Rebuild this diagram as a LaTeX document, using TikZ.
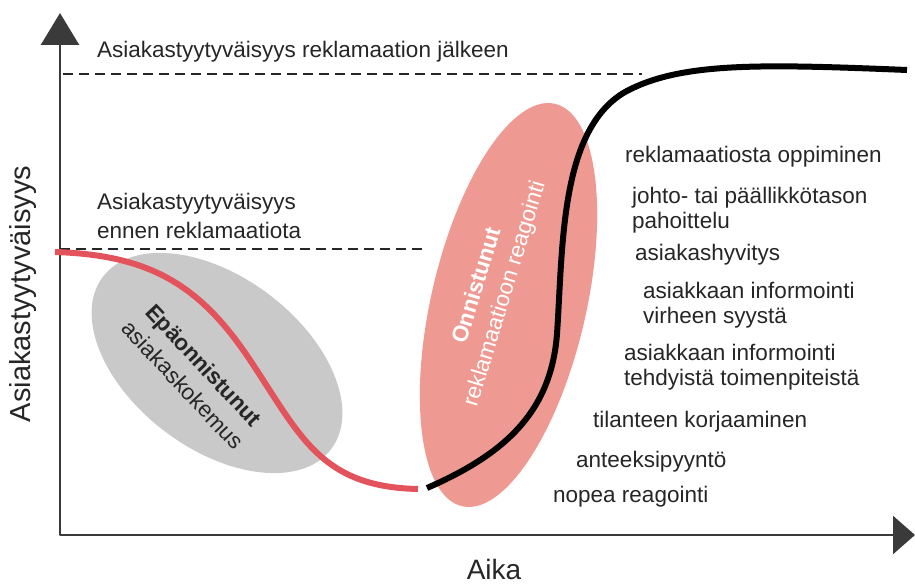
\documentclass[tikz,border=0pt]{standalone}
\usepackage{fontspec}
\setmainfont{Liberation Sans}
\usepackage{tikz}
\usetikzlibrary{arrows.meta,positioning,shapes.geometric}
\definecolor{blobgray}{HTML}{C9C9C9}
\definecolor{blobpink}{HTML}{EE9A92}
\definecolor{curvered}{HTML}{E2535B}
\definecolor{axisgray}{HTML}{3A3A3A}
\definecolor{textgray}{HTML}{262626}

\begin{document}
\begin{tikzpicture}[x=1pt,y=1pt,line cap=butt,line join=round,
  every node/.style={text=textgray,font=\fontsize{22.5}{25}\selectfont,inner sep=0pt},
  listlbl/.style={anchor=west,align=left},
  blob/.style={ellipse,draw=none,inner sep=0pt,outer sep=0pt},
  levelline/.style={draw=textgray,line width=2pt,dash pattern=on 10pt off 6pt},
  curve/.style={line width=6pt}]
\path[use as bounding box] (0,0) rectangle (915,584);
% ellipses
\node[blob,fill=blobgray,minimum width=286pt,minimum height=172pt,rotate=-37] (fail) at (217,221) {};
\node[blob,fill=blobpink,minimum width=413pt,minimum height=155pt,rotate=77] (success) at (508.5,279) {};
\node[align=center,rotate=-47,font=\fontsize{22.5}{29}\selectfont] (failtxt) at (193.5,209) {\textbf{Epäonnistunut}\\asiakaskokemus};
\node[align=center,rotate=73,text=white,font=\fontsize{22.5}{29}\selectfont] (successtxt) at (491.5,294) {\textbf{Onnistunut}\\reklamaatioon reagointi};
% axes
\coordinate (O) at (60,49);
\coordinate (ytip) at (60,571);
\coordinate (xtip) at (915,49);
\draw[axisgray,line width=2.5pt,{Triangle[length=32pt,width=38pt]}-{Triangle[length=22pt,width=38pt]}] (ytip) -- (O) -- (xtip);
\node[rotate=90,font=\fontsize{29}{32}\selectfont] (ylbl) at (23,290) {Asiakastyytyväisyys};
\node[font=\fontsize{28}{32}\selectfont] (xlbl) at (494,15) {Aika};
% levels
\coordinate (after0) at (63,510);
\coordinate (after1) at (642,510);
\coordinate (before0) at (60,335);
\coordinate (before1) at (423,335);
\draw[levelline] (after0) -- (after1);
\draw[levelline] (before0) -- (before1);
\node[listlbl] (afterlbl) at (97,532) {Asiakastyytyväisyys reklamaation jälkeen};
\node[listlbl,font=\fontsize{22.5}{29}\selectfont] (beforelbl) at (97,368.5) {Asiakastyytyväisyys\\ennen reklamaatiota};
% curves
\draw[curve,curvered] (55,332) .. controls (150,329) and (200,299) .. (250,224) .. controls (300,149) and (320,97) .. (418,95);
\draw[curve,black] (427,96) .. controls (505,130) and (551,172) .. (557,250) .. controls (563,339) and (560,454) .. (625,492) .. controls (680,522) and (760,520) .. (907,514);
% steps
\node[listlbl] (learn) at (625,427) {reklamaatiosta oppiminen};
\node[listlbl] (apology2) at (632,374) {johto- tai päällikkötason\\pahoittelu};
\node[listlbl] (refund) at (635,329) {asiakashyvitys};
\node[listlbl] (cause) at (643,278.5) {asiakkaan informointi\\virheen syystä};
\node[listlbl] (actions) at (624,216.5) {asiakkaan informointi\\tehdyistä toimenpiteistä};
\node[listlbl] (fix) at (593,162) {tilanteen korjaaminen};
\node[listlbl] (sorry) at (576,122) {anteeksipyyntö};
\node[listlbl] (quick) at (553,87) {nopea reagointi};
\end{tikzpicture}
\end{document}
